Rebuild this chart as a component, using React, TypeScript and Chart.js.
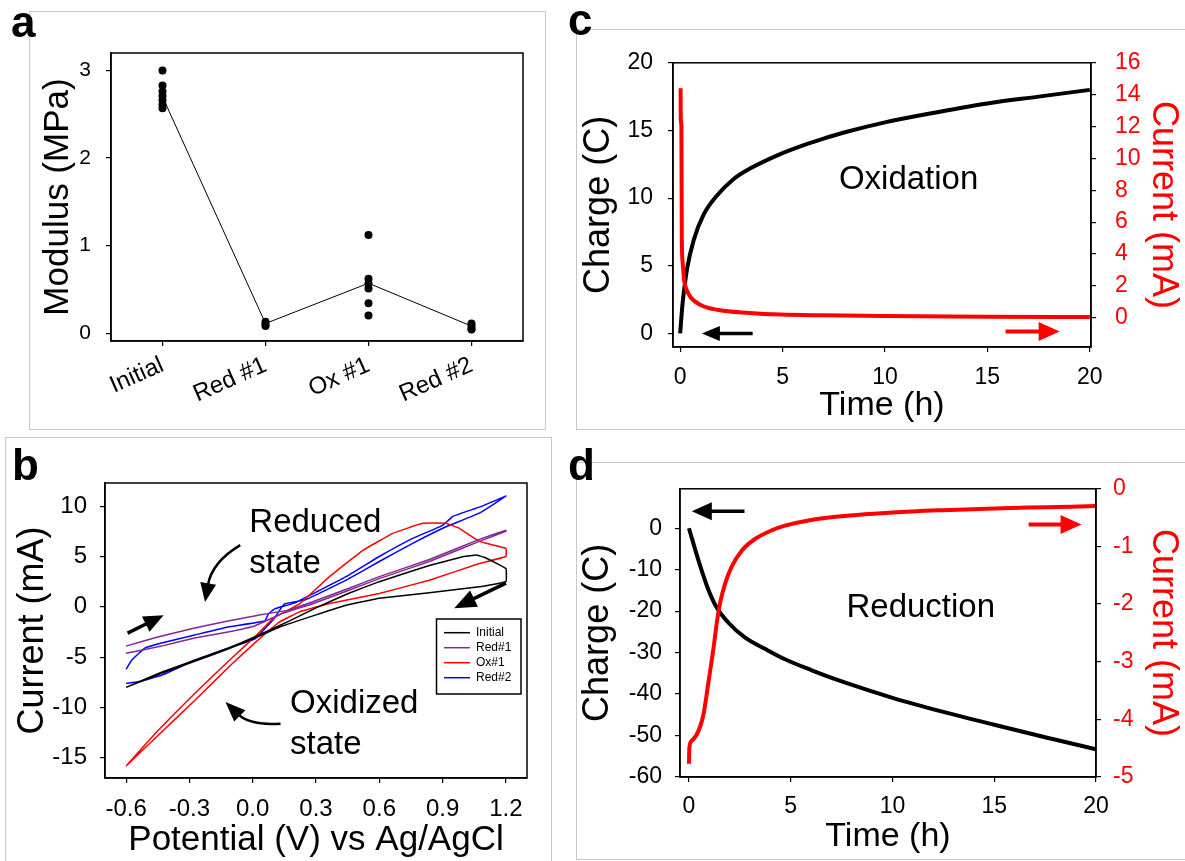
import React, { useEffect, useRef } from "react";
import { Chart, registerables } from "chart.js";

Chart.register(...registerables);

const FONT = "'Liberation Sans', Arial, Helvetica, sans-serif";

/* ---------------- panel a : modulus ---------------- */
const modCategories = ["Initial", "Red #1", "Ox #1", "Red #2"];
const modInitial = [3.0, 2.83, 2.76, 2.71, 2.66, 2.61, 2.57];
const modRed1 = [0.13, 0.1, 0.08];
const modOx1 = [1.12, 0.62, 0.57, 0.51, 0.34, 0.2];
const modRed2 = [0.11, 0.08, 0.05, 0.04];
const modMeans = [2.7, 0.11, 0.57, 0.08];
const modYTicks = [0, 1, 2, 3];

/* ---------------- panel b : cyclic voltammetry ---------------- */
const cvXTicks = [-0.6, -0.3, 0, 0.3, 0.6, 0.9, 1.2];
const cvYTicks = [-15, -10, -5, 0, 5, 10];
const cvLegend = ["Initial", "Red#1", "Ox#1", "Red#2"];

const initialV = [-0.6, -0.432, -0.275, -0.117, 0.009, 0.175, 0.3, 0.45, 0.6, 0.837, 1.0, 1.06, 1.1, 1.2, 1.2, 1.074, 0.837, 0.6, 0.45, 0.3, 0.128, 0.009, -0.117, -0.275, -0.432, -0.6];
const initialI = [-8.0, -6.5, -5.3, -4.1, -3.0, -1.4, -0.1, 1.3, 2.5, 4.1, 5.0, 5.15, 4.9, 3.8, 2.5, 2.0, 1.4, 0.85, 0.2, -0.8, -2.0, -3.1, -4.2, -5.4, -6.6, -8.0];

const red1V = [-0.6, -0.45, -0.275, -0.117, 0.009, 0.175, 0.284, 0.45, 0.6, 0.837, 1.074, 1.2, 1.2, 1.074, 0.837, 0.6, 0.45, 0.284, 0.136, 0.009, -0.117, -0.275, -0.432, -0.6];
const red1I = [-3.9, -3.0, -2.1, -1.4, -0.9, -0.3, 0.5, 1.8, 3.0, 4.7, 6.7, 7.6, 7.5, 6.5, 4.5, 2.8, 1.6, 0.3, -0.7, -1.9, -2.5, -3.1, -3.9, -4.6];

const ox1V = [-0.6, -0.45, -0.275, -0.1, 0.009, 0.1, 0.222, 0.364, 0.522, 0.664, 0.805, 0.916, 0.979, 1.074, 1.2, 1.2, 1.074, 0.837, 0.6, 0.364, 0.222, 0.128, 0.009, -0.1, -0.275, -0.45, -0.6];
const ox1I = [-15.8, -12.3, -8.6, -5.1, -3.0, -1.1, 0.3, 3.0, 5.6, 7.3, 8.3, 8.3, 7.8, 6.5, 5.8, 5.0, 4.3, 2.65, 1.33, 0.34, -0.5, -1.5, -3.6, -5.7, -9.3, -12.8, -15.8];

const red2V = [-0.6, -0.574, -0.511, -0.432, -0.275, -0.117, 0.057, 0.075, 0.104, 0.2, 0.443, 0.6, 0.758, 0.9, 0.95, 1.074, 1.2, 1.074, 0.916, 0.758, 0.6, 0.443, 0.25, 0.15, 0.1, 0.009, -0.117, -0.275, -0.432, -0.543, -0.6];
const red2I = [-6.2, -5.3, -4.1, -3.6, -2.8, -2.0, -1.4, -0.7, -0.2, 0.4, 3.0, 5.0, 6.8, 8.1, 9.0, 9.9, 11.0, 9.3, 7.95, 6.3, 4.5, 2.65, 0.7, 0.3, -1.2, -3.2, -4.1, -5.3, -6.8, -7.45, -7.6];

/* ---------------- panel c : oxidation ---------------- */
const timeTicks = [0, 5, 10, 15, 20];
const oxChargeTicks = [0, 5, 10, 15, 20];
const oxCurrentTicks = [0, 2, 4, 6, 8, 10, 12, 14, 16];
const oxChargeTime = [0, 0.11, 0.2, 0.34, 0.66, 1.15, 1.8, 2.6, 3.43, 4.8, 6, 7, 8, 10, 12, 15, 17.5, 20];
const oxCharge = [0, 2.1, 3.3, 4.8, 6.9, 8.8, 10.2, 11.4, 12.2, 13.2, 13.9, 14.4, 14.85, 15.6, 16.2, 17.0, 17.5, 18.0];
const oxCurrentTime = [0.02, 0.03, 0.06, 0.08, 0.12, 0.2, 0.3, 0.5, 1.0, 1.8, 3.4, 4.9, 7, 10, 15, 20];
const oxCurrent = [14.4, 12.4, 12.0, 5.0, 3.5, 2.3, 1.8, 1.3, 0.8, 0.5, 0.3, 0.2, 0.15, 0.1, 0.06, 0.04];

/* ---------------- panel d : reduction ---------------- */
const redChargeTicks = [-60, -50, -40, -30, -20, -10, 0];
const redCurrentTicks = [-5, -4, -3, -2, -1, 0];
const redChargeTime = [0, 0.47, 0.96, 1.37, 1.94, 2.76, 3.74, 4.72, 6, 7.65, 10, 12.5, 15, 17.5, 20];
const redCharge = [0, -7.8, -14.9, -19.2, -22.8, -26.4, -29.1, -31.6, -34.2, -37.2, -40.9, -44.3, -47.4, -50.4, -53.3];
const redCurrentTime = [0, 0.02, 0.14, 0.47, 0.71, 0.96, 1.2, 1.37, 1.53, 1.78, 2.1, 2.6, 3.25, 4.07, 4.72, 6, 7.64, 10, 12.5, 15, 17.5, 20];
const redCurrent = [-4.77, -4.49, -4.37, -4.2, -3.92, -3.35, -2.78, -2.32, -1.98, -1.64, -1.35, -1.07, -0.87, -0.72, -0.64, -0.54, -0.47, -0.41, -0.37, -0.34, -0.32, -0.3];

/* ---------------- annotations (in data units) ---------------- */
const cvTexts = [
  { text: "Reduced", x: -0.016, y: 7.46 },
  { text: "state", x: -0.016, y: 3.35 },
  { text: "Oxidized", x: 0.177, y: -10.54 },
  { text: "state", x: 0.177, y: -14.64 },
];
const cvArrows = [
  { from: [-0.593, -2.61], to: [-0.422, -0.83], lw: 3.5, head: 20, hw: 17 },
  { from: [1.2, 2.36], to: [0.955, -0.13], lw: 3.5, head: 22, hw: 18 },
  { from: [-0.059, 6.13], ctrl: [-0.194, 4.44], to: [-0.226, 0.47], lw: 2.5, head: 19, hw: 16 },
  { from: [0.132, -11.6], ctrl: [-0.014, -11.8], to: [-0.129, -9.44], lw: 2.5, head: 20, hw: 16 },
];
const oxArrows = [
  { from: [3.54, 0], to: [1.06, 0], axis: "y", color: "#000", lw: 3.5, head: 18, hw: 15 },
  { from: [15.89, -0.87], to: [18.53, -0.87], axis: "y1", color: "#ff0000", lw: 4, head: 21, hw: 19 },
];
const redArrows = [
  { from: [2.73, 4.1], to: [0.14, 4.1], axis: "y", color: "#000", lw: 3.5, head: 20, hw: 18 },
  { from: [16.69, -0.62], to: [19.29, -0.62], axis: "y1", color: "#ff0000", lw: 4, head: 21, hw: 19 },
];

const zip = (xs: number[], ys: number[]) => xs.map((x, i) => ({ x, y: ys[i] }));
const setTicks = (vals: number[]) => (scale: any) => {
  scale.ticks = vals.map((v) => ({ value: v }));
};
const fixWidth = (w: number) => (scale: any) => {
  scale.width = w;
};
const fixHeight = (h: number) => (scale: any) => {
  scale.height = h;
};

const gridOpts = { drawOnChartArea: false, drawTicks: true, tickLength: 5, color: "#000", lineWidth: 1.2 };
const borderOpts = { display: true, color: "#000", width: 1.5 };
const tickFont = (size: number) => ({ family: FONT, size });

const framePlugin = {
  id: "frameBox",
  afterDatasetsDraw(chart: any) {
    const { ctx, chartArea } = chart;
    const { left, top, right, bottom } = chartArea;
    ctx.save();
    ctx.strokeStyle = "#000";
    ctx.lineWidth = 1.5;
    ctx.strokeRect(left, top, right - left, bottom - top);
    ctx.restore();
  },
};

function drawArrow(ctx: any, sx: any, sy: any, a: any, color: string) {
  const x1 = sx.getPixelForValue(a.from[0]);
  const y1 = sy.getPixelForValue(a.from[1]);
  const x2 = sx.getPixelForValue(a.to[0]);
  const y2 = sy.getPixelForValue(a.to[1]);
  let cx = x1;
  let cy = y1;
  if (a.ctrl) {
    cx = sx.getPixelForValue(a.ctrl[0]);
    cy = sy.getPixelForValue(a.ctrl[1]);
  }
  const ang = Math.atan2(y2 - cy, x2 - cx);
  const bx = x2 - a.head * Math.cos(ang);
  const by = y2 - a.head * Math.sin(ang);
  ctx.save();
  ctx.strokeStyle = color;
  ctx.fillStyle = color;
  ctx.lineWidth = a.lw;
  ctx.lineCap = "butt";
  ctx.beginPath();
  ctx.moveTo(x1, y1);
  if (a.ctrl) ctx.quadraticCurveTo(cx, cy, bx + Math.cos(ang) * 2, by + Math.sin(ang) * 2);
  else ctx.lineTo(bx + Math.cos(ang) * 2, by + Math.sin(ang) * 2);
  ctx.stroke();
  const hw = a.hw / 2;
  ctx.beginPath();
  ctx.moveTo(x2, y2);
  ctx.lineTo(bx + hw * Math.sin(ang), by - hw * Math.cos(ang));
  ctx.lineTo(bx - hw * Math.sin(ang), by + hw * Math.cos(ang));
  ctx.closePath();
  ctx.fill();
  ctx.restore();
}

function drawLabel(ctx: any, sx: any, sy: any, t: { text: string; x: number; y: number }, size: number) {
  ctx.save();
  ctx.fillStyle = "#000";
  ctx.font = `${size}px ${FONT}`;
  ctx.textAlign = "left";
  ctx.textBaseline = "alphabetic";
  ctx.fillText(t.text, sx.getPixelForValue(t.x), sy.getPixelForValue(t.y));
  ctx.restore();
}

/* ---------------- chart configs ---------------- */
function configA() {
  const pts = [
    ...modInitial.map((y) => ({ x: 0, y })),
    ...modRed1.map((y) => ({ x: 1, y })),
    ...modOx1.map((y) => ({ x: 2, y })),
    ...modRed2.map((y) => ({ x: 3, y })),
  ];
  return {
    type: "line",
    data: {
      datasets: [
        { data: pts, showLine: false, pointRadius: 4, pointStyle: "circle", backgroundColor: "#000", borderColor: "#000", pointBorderWidth: 0 },
        { data: zip([0, 1, 2, 3], modMeans), borderColor: "#000", borderWidth: 1, pointRadius: 0, tension: 0 },
      ],
    },
    options: {
      animation: false,
      responsive: false,
      devicePixelRatio: 1,
      events: [],
      layout: { padding: { left: 0, right: 37, top: 53, bottom: 0 } },
      plugins: { legend: { display: false }, tooltip: { enabled: false } },
      scales: {
        x: {
          type: "linear",
          min: -0.5,
          max: 3.5,
          afterBuildTicks: setTicks([0, 1, 2, 3]),
          afterFit: fixHeight(89),
          grid: gridOpts,
          border: borderOpts,
          ticks: {
            color: "#000",
            font: tickFont(24),
            padding: 5,
            autoSkip: false,
            minRotation: 24,
            maxRotation: 24,
            callback: (v: number) => modCategories[Math.round(v)] ?? "",
          },
        },
        y: {
          min: -0.09,
          max: 3.2,
          afterBuildTicks: setTicks(modYTicks),
          afterFit: fixWidth(111),
          grid: gridOpts,
          border: borderOpts,
          ticks: { color: "#000", font: tickFont(21), padding: 15 },
          title: { display: true, text: "Modulus (MPa)", color: "#000", font: { family: FONT, size: 35 }, padding: { top: 37, bottom: 0 } },
        },
      },
    },
    plugins: [framePlugin],
  };
}

function configB() {
  const series = [
    { label: cvLegend[0], v: initialV, i: initialI, color: "#000000" },
    { label: cvLegend[1], v: red1V, i: red1I, color: "#84298f" },
    { label: cvLegend[2], v: ox1V, i: ox1I, color: "#ff0000" },
    { label: cvLegend[3], v: red2V, i: red2I, color: "#0000ff" },
  ];
  const annot = {
    id: "cvAnnot",
    afterDraw(chart: any) {
      const { ctx, chartArea } = chart;
      const sx = chart.scales.x;
      const sy = chart.scales.y;
      cvTexts.forEach((t) => drawLabel(ctx, sx, sy, t, 33));
      cvArrows.forEach((a) => drawArrow(ctx, sx, sy, a, "#000"));
      // legend box
      const bw = 84.5;
      const bh = 75;
      const bx = chartArea.right - 6 - bw;
      const by = chartArea.top + 136;
      ctx.save();
      ctx.fillStyle = "#fff";
      ctx.fillRect(bx, by, bw, bh);
      ctx.strokeStyle = "#000";
      ctx.lineWidth = 1.5;
      ctx.strokeRect(bx, by, bw, bh);
      ctx.font = `12px ${FONT}`;
      ctx.textBaseline = "middle";
      ctx.textAlign = "left";
      chart.data.datasets.forEach((ds: any, k: number) => {
        const yy = by + 13.7 + k * 15;
        ctx.strokeStyle = ds.borderColor;
        ctx.lineWidth = 1.5;
        ctx.beginPath();
        ctx.moveTo(bx + 7.5, yy);
        ctx.lineTo(bx + 33.5, yy);
        ctx.stroke();
        ctx.fillStyle = "#000";
        ctx.fillText(ds.label, bx + 39.5, yy);
      });
      ctx.restore();
    },
  };
  return {
    type: "line",
    data: {
      datasets: series.map((s) => ({
        label: s.label,
        data: zip(s.v, s.i),
        borderColor: s.color,
        backgroundColor: s.color,
        borderWidth: 1.5,
        pointRadius: 0,
        tension: 0.08,
      })),
    },
    options: {
      animation: false,
      responsive: false,
      devicePixelRatio: 1,
      events: [],
      layout: { padding: { left: 0, right: 33, top: 53, bottom: 0 } },
      plugins: { legend: { display: false }, tooltip: { enabled: false } },
      scales: {
        x: {
          type: "linear",
          min: -0.7,
          max: 1.3,
          afterBuildTicks: setTicks(cvXTicks),
          afterFit: fixHeight(83),
          grid: gridOpts,
          border: borderOpts,
          ticks: { color: "#000", font: tickFont(24), padding: 12, maxRotation: 0, minRotation: 0, autoSkip: false, callback: (v: number) => Number(v).toFixed(1) },
          title: { display: true, text: "Potential (V) vs Ag/AgCl", color: "#000", font: { family: FONT, size: 35 }, padding: { top: 0, bottom: 0 } },
        },
        y: {
          min: -17,
          max: 12.3,
          afterBuildTicks: setTicks(cvYTicks),
          afterFit: fixWidth(105),
          grid: gridOpts,
          border: borderOpts,
          ticks: { color: "#000", font: tickFont(24), padding: 13 },
          title: { display: true, text: "Current (mA)", color: "#000", font: { family: FONT, size: 36 }, padding: { top: 11, bottom: 0 } },
        },
      },
    },
    plugins: [framePlugin, annot],
  };
}

function configTime(opts: any) {
  const annot = {
    id: "timeAnnot",
    afterDraw(chart: any) {
      const { ctx } = chart;
      const sx = chart.scales.x;
      opts.arrows.forEach((a: any) => drawArrow(ctx, sx, chart.scales[a.axis], a, a.color));
      drawLabel(ctx, sx, chart.scales.y, opts.label, 33);
    },
  };
  return {
    type: "line",
    data: {
      datasets: [
        { data: zip(opts.curT, opts.cur), yAxisID: "y1", borderColor: "#ff0000", borderWidth: 4, pointRadius: 0, cubicInterpolationMode: "monotone" },
        { data: zip(opts.chgT, opts.chg), yAxisID: "y", borderColor: "#000", borderWidth: 4, pointRadius: 0, cubicInterpolationMode: "monotone" },
      ],
    },
    options: {
      animation: false,
      responsive: false,
      devicePixelRatio: 1,
      events: [],
      layout: { padding: { left: 0, right: 0, top: opts.padTop, bottom: 0 } },
      plugins: { legend: { display: false }, tooltip: { enabled: false } },
      scales: {
        x: {
          type: "linear",
          min: opts.xMin,
          max: opts.xMax,
          afterBuildTicks: setTicks(timeTicks),
          afterFit: fixHeight(opts.xH),
          grid: gridOpts,
          border: borderOpts,
          ticks: { color: "#000", font: tickFont(23), padding: opts.xPad, maxRotation: 0, minRotation: 0, autoSkip: false },
          title: { display: true, text: "Time (h)", color: "#000", font: { family: FONT, size: 34 }, padding: { top: 0, bottom: 4 } },
        },
        y: {
          position: "left",
          min: opts.yMin,
          max: opts.yMax,
          afterBuildTicks: setTicks(opts.yTicks),
          afterFit: fixWidth(opts.yW),
          grid: gridOpts,
          border: borderOpts,
          ticks: { color: "#000", font: tickFont(23), padding: opts.yPad },
          title: { display: true, text: "Charge (C)", color: "#000", font: { family: FONT, size: 36 }, padding: { top: opts.yTitlePad, bottom: 0 } },
        },
        y1: {
          position: "right",
          min: opts.y1Min,
          max: opts.y1Max,
          afterBuildTicks: setTicks(opts.y1Ticks),
          afterFit: fixWidth(opts.y1W),
          grid: gridOpts,
          border: borderOpts,
          ticks: { color: "#ff0000", font: tickFont(23), padding: opts.y1Pad },
          title: { display: true, text: "Current (mA)", color: "#ff0000", font: { family: FONT, size: 36 }, padding: { top: opts.y1TitlePad, bottom: 0 } },
        },
      },
    },
    plugins: [framePlugin, annot],
  };
}

function configC() {
  return configTime({
    curT: oxCurrentTime, cur: oxCurrent, chgT: oxChargeTime, chg: oxCharge,
    padTop: 23, xMin: -0.35, xMax: 20.06, xH: 83, xPad: 12,
    yMin: -1, yMax: 20, yTicks: oxChargeTicks, yW: 98, yPad: 15, yTitlePad: 2,
    y1Min: -1.84, y1Max: 16, y1Ticks: oxCurrentTicks, y1W: 94, y1Pad: 19, y1TitlePad: 0,
    arrows: oxArrows, label: { text: "Oxidation", x: 7.75, y: 10.71 },
  });
}

function configD() {
  return configTime({
    curT: redCurrentTime, cur: redCurrent, chgT: redChargeTime, chg: redCharge,
    padTop: 22, xMin: -0.44, xMax: 20, xH: 84, xPad: 11,
    yMin: -60, yMax: 9.5, yTicks: redChargeTicks, yW: 105, yPad: 13, yTitlePad: 1,
    y1Min: -5, y1Max: 0, y1Ticks: redCurrentTicks, y1W: 89, y1Pad: 12, y1TitlePad: 0,
    arrows: redArrows, label: { text: "Reduction", x: 7.74, y: -21.45 },
  });
}

function ChartPanel({ x, y, w, h, make }: { x: number; y: number; w: number; h: number; make: () => any }) {
  const ref = useRef<HTMLCanvasElement>(null);
  useEffect(() => {
    const chart = new Chart(ref.current as HTMLCanvasElement, make());
    return () => chart.destroy();
  }, []);
  return <canvas ref={ref} width={w} height={h} style={{ position: "absolute", left: x, top: y, width: w, height: h }} />;
}

const frameStyle = (l: number, t: number, w: number, h: number): React.CSSProperties => ({
  position: "absolute",
  left: l,
  top: t,
  width: w,
  height: h,
  border: "1px solid #c8c8c8",
  boxSizing: "border-box",
});

const letterStyle = (l: number, t: number): React.CSSProperties => ({
  position: "absolute",
  left: l,
  top: t,
  fontFamily: FONT,
  fontWeight: "bold",
  fontSize: 44,
  lineHeight: "44px",
  color: "#000",
});

export default function App() {
  return (
    <div style={{ position: "absolute", left: 0, top: 0, width: 1185, height: 861, background: "#fff", overflow: "hidden" }}>
      <div style={frameStyle(29, 11, 517, 419)} />
      <div style={frameStyle(5, 437, 547, 440)} />
      <div style={frameStyle(576, 29, 620, 401)} />
      <div style={frameStyle(576, 462, 620, 398)} />
      <ChartPanel x={0} y={0} w={560} h={430} make={configA} />
      <ChartPanel x={0} y={430} w={560} h={431} make={configB} />
      <ChartPanel x={575} y={30} w={610} h={400} make={configC} />
      <ChartPanel x={575} y={462} w={610} h={399} make={configD} />
      <div style={letterStyle(11, 0)}>a</div>
      <div style={letterStyle(12, 443)}>b</div>
      <div style={letterStyle(568, -2)}>c</div>
      <div style={letterStyle(568, 443)}>d</div>
    </div>
  );
}
